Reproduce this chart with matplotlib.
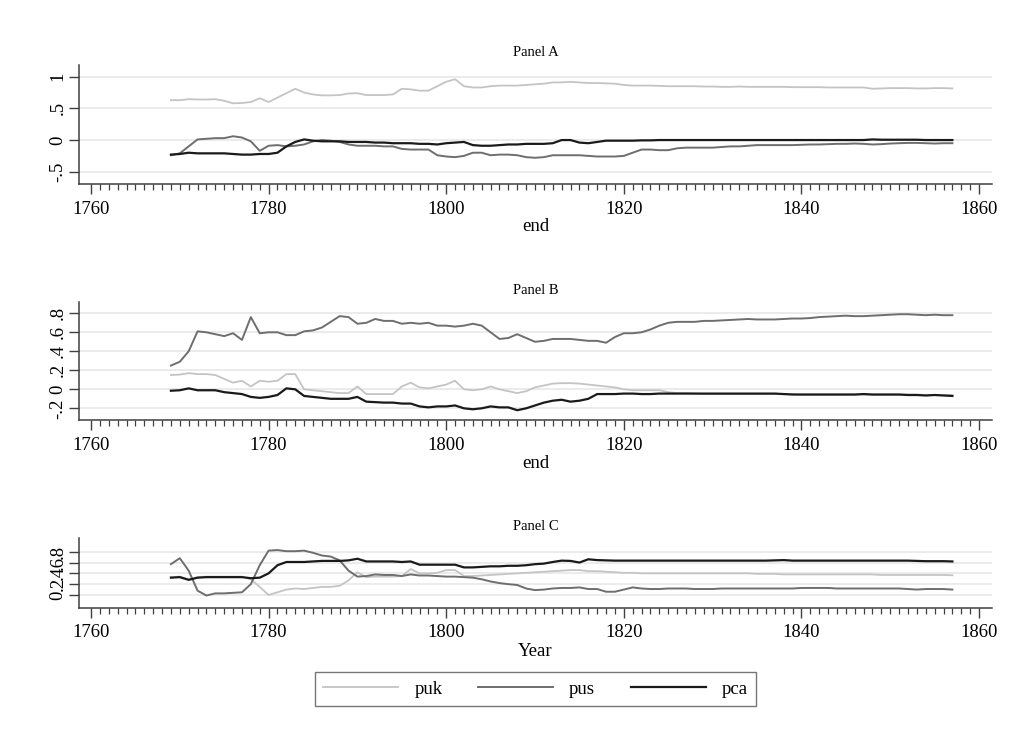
import matplotlib
matplotlib.use("Agg")
import matplotlib.pyplot as plt
import numpy as np
from matplotlib.ticker import FixedLocator, MultipleLocator

years = list(range(1769, 1858))

# Panel A
a_puk = [0.63, 0.63, 0.645, 0.64, 0.64, 0.645, 0.62, 0.58, 0.585, 0.60,
         0.66, 0.60, 0.67, 0.74, 0.81, 0.75, 0.72, 0.705, 0.705, 0.71,
         0.735, 0.74, 0.71, 0.71, 0.71, 0.72, 0.81, 0.80, 0.78, 0.78,
         0.85, 0.92, 0.96, 0.85, 0.83, 0.83, 0.85, 0.86, 0.86, 0.86,
         0.87, 0.88, 0.89, 0.91, 0.91, 0.92, 0.91, 0.90, 0.90, 0.895,
         0.89, 0.87, 0.86, 0.86, 0.86, 0.855, 0.85, 0.85, 0.85, 0.85,
         0.845, 0.845, 0.84, 0.84, 0.845, 0.84, 0.84, 0.84, 0.84, 0.84,
         0.835, 0.835, 0.835, 0.835, 0.83, 0.83, 0.83, 0.83, 0.83, 0.81,
         0.815, 0.82, 0.82, 0.82, 0.815, 0.815, 0.82, 0.82, 0.815]
a_pus = [-0.24, -0.21, -0.10, 0.01, 0.02, 0.03, 0.03, 0.06, 0.04, -0.02,
         -0.17, -0.09, -0.08, -0.10, -0.09, -0.07, -0.02, 0.0, -0.01, -0.03,
         -0.07, -0.09, -0.09, -0.09, -0.10, -0.10, -0.14, -0.15, -0.15, -0.15,
         -0.24, -0.26, -0.27, -0.25, -0.20, -0.20, -0.24, -0.23, -0.23, -0.24,
         -0.27, -0.28, -0.27, -0.24, -0.24, -0.24, -0.24, -0.25, -0.26, -0.26,
         -0.26, -0.25, -0.20, -0.15, -0.15, -0.16, -0.16, -0.13, -0.12, -0.12,
         -0.12, -0.12, -0.11, -0.10, -0.10, -0.09, -0.08, -0.08, -0.08, -0.08,
         -0.08, -0.075, -0.07, -0.07, -0.065, -0.06, -0.06, -0.055, -0.06, -0.07,
         -0.065, -0.055, -0.05, -0.045, -0.045, -0.05, -0.055, -0.05, -0.05]
a_pca = [-0.23, -0.22, -0.20, -0.21, -0.21, -0.21, -0.21, -0.22, -0.23, -0.23,
         -0.22, -0.22, -0.20, -0.10, -0.03, 0.01, -0.01, -0.02, -0.02, -0.02,
         -0.03, -0.03, -0.03, -0.04, -0.04, -0.05, -0.05, -0.05, -0.06, -0.06,
         -0.07, -0.05, -0.04, -0.03, -0.08, -0.09, -0.09, -0.08, -0.07, -0.07,
         -0.06, -0.06, -0.06, -0.05, 0.0, 0.0, -0.04, -0.05, -0.03, -0.01,
         -0.01, -0.01, -0.01, -0.005, -0.005, 0.0, 0.0, 0.0, 0.0, 0.0,
         0.0, 0.0, 0.0, 0.0, 0.0, 0.0, 0.0, 0.0, 0.0, 0.0,
         0.0, 0.0, 0.0, 0.0, 0.0, 0.0, 0.0, 0.0, 0.0, 0.01,
         0.005, 0.005, 0.005, 0.005, 0.005, 0.0, 0.0, 0.0, 0.0]

# Panel B
b_puk = [0.15, 0.155, 0.17, 0.16, 0.16, 0.15, 0.11, 0.07, 0.09, 0.03,
         0.09, 0.08, 0.09, 0.16, 0.16, 0.0, -0.01, -0.02, -0.03, -0.04,
         -0.04, 0.03, -0.05, -0.05, -0.05, -0.05, 0.03, 0.07, 0.02, 0.01,
         0.03, 0.05, 0.09, 0.0, -0.01, 0.0, 0.03, 0.0, -0.02, -0.04,
         -0.02, 0.02, 0.04, 0.06, 0.065, 0.065, 0.06, 0.05, 0.04, 0.03,
         0.02, 0.0, -0.01, -0.01, -0.01, -0.01, -0.03, -0.04, -0.04, -0.045,
         -0.05, -0.05, -0.05, -0.05, -0.05, -0.05, -0.05, -0.05, -0.05, -0.05,
         -0.05, -0.055, -0.055, -0.055, -0.055, -0.055, -0.055, -0.055, -0.055, -0.055,
         -0.055, -0.055, -0.055, -0.055, -0.055, -0.06, -0.06, -0.06, -0.06]
b_pus = [0.25, 0.29, 0.40, 0.61, 0.60, 0.58, 0.56, 0.59, 0.52, 0.76,
         0.59, 0.60, 0.60, 0.57, 0.57, 0.61, 0.62, 0.65, 0.71, 0.77,
         0.76, 0.69, 0.70, 0.74, 0.72, 0.72, 0.69, 0.70, 0.69, 0.70,
         0.67, 0.67, 0.66, 0.67, 0.69, 0.67, 0.60, 0.53, 0.54, 0.58,
         0.54, 0.50, 0.51, 0.53, 0.53, 0.53, 0.52, 0.51, 0.51, 0.49,
         0.55, 0.59, 0.59, 0.60, 0.63, 0.67, 0.70, 0.71, 0.71, 0.71,
         0.72, 0.72, 0.725, 0.73, 0.735, 0.74, 0.735, 0.735, 0.735, 0.74,
         0.745, 0.745, 0.75, 0.76, 0.765, 0.77, 0.775, 0.77, 0.77, 0.775,
         0.78, 0.785, 0.79, 0.79, 0.785, 0.78, 0.785, 0.78, 0.78]
b_pca = [-0.015, -0.01, 0.01, -0.01, -0.01, -0.01, -0.03, -0.04, -0.05, -0.08,
         -0.09, -0.08, -0.06, 0.01, 0.0, -0.07, -0.08, -0.09, -0.10, -0.10,
         -0.10, -0.08, -0.13, -0.135, -0.14, -0.14, -0.15, -0.15, -0.18, -0.19,
         -0.18, -0.18, -0.17, -0.20, -0.21, -0.20, -0.18, -0.19, -0.19, -0.22,
         -0.20, -0.17, -0.14, -0.12, -0.11, -0.13, -0.12, -0.10, -0.05, -0.05,
         -0.05, -0.045, -0.045, -0.05, -0.05, -0.045, -0.045, -0.045, -0.045, -0.045,
         -0.045, -0.045, -0.045, -0.045, -0.045, -0.045, -0.045, -0.045, -0.045, -0.05,
         -0.055, -0.055, -0.055, -0.055, -0.055, -0.055, -0.055, -0.055, -0.05, -0.055,
         -0.055, -0.055, -0.055, -0.06, -0.06, -0.065, -0.06, -0.065, -0.07]

# Panel C
c_puk = [0.33, 0.34, 0.29, 0.33, 0.34, 0.34, 0.34, 0.34, 0.34, 0.29,
         0.15, 0.0, 0.05, 0.10, 0.12, 0.11, 0.13, 0.15, 0.15, 0.17,
         0.27, 0.42, 0.33, 0.34, 0.34, 0.34, 0.35, 0.48, 0.40, 0.40,
         0.41, 0.46, 0.46, 0.35, 0.35, 0.36, 0.37, 0.38, 0.39, 0.40,
         0.41, 0.42, 0.43, 0.44, 0.45, 0.46, 0.46, 0.44, 0.44, 0.43,
         0.42, 0.41, 0.41, 0.40, 0.40, 0.40, 0.40, 0.40, 0.40, 0.40,
         0.40, 0.40, 0.40, 0.40, 0.40, 0.40, 0.39, 0.39, 0.39, 0.38,
         0.38, 0.38, 0.38, 0.38, 0.38, 0.38, 0.38, 0.38, 0.38, 0.38,
         0.37, 0.37, 0.37, 0.37, 0.37, 0.37, 0.37, 0.37, 0.365]
c_pus = [0.57, 0.68, 0.45, 0.08, -0.01, 0.03, 0.03, 0.04, 0.05, 0.20,
         0.55, 0.82, 0.83, 0.81, 0.81, 0.82, 0.78, 0.73, 0.71, 0.64,
         0.45, 0.34, 0.35, 0.38, 0.37, 0.37, 0.35, 0.38, 0.36, 0.36,
         0.35, 0.34, 0.34, 0.33, 0.32, 0.29, 0.25, 0.22, 0.20, 0.185,
         0.12, 0.09, 0.10, 0.12, 0.13, 0.13, 0.14, 0.11, 0.11, 0.06,
         0.06, 0.10, 0.14, 0.12, 0.11, 0.11, 0.12, 0.12, 0.12, 0.11,
         0.11, 0.11, 0.12, 0.12, 0.12, 0.12, 0.12, 0.12, 0.12, 0.12,
         0.12, 0.13, 0.13, 0.13, 0.13, 0.12, 0.12, 0.12, 0.12, 0.12,
         0.12, 0.12, 0.12, 0.11, 0.10, 0.11, 0.11, 0.11, 0.10]
c_pca = [0.32, 0.33, 0.28, 0.32, 0.33, 0.33, 0.33, 0.33, 0.33, 0.31,
         0.32, 0.40, 0.55, 0.61, 0.61, 0.61, 0.62, 0.63, 0.63, 0.63,
         0.64, 0.67, 0.62, 0.62, 0.62, 0.62, 0.61, 0.62, 0.56, 0.56,
         0.56, 0.56, 0.56, 0.51, 0.51, 0.52, 0.53, 0.53, 0.54, 0.54,
         0.55, 0.57, 0.58, 0.61, 0.635, 0.63, 0.60, 0.66, 0.645, 0.64,
         0.635, 0.635, 0.635, 0.635, 0.635, 0.635, 0.635, 0.635, 0.635, 0.635,
         0.635, 0.635, 0.635, 0.635, 0.635, 0.635, 0.635, 0.635, 0.64, 0.645,
         0.635, 0.635, 0.635, 0.635, 0.635, 0.635, 0.635, 0.635, 0.635, 0.635,
         0.635, 0.635, 0.635, 0.635, 0.63, 0.625, 0.625, 0.625, 0.62]

series_names = ["puk", "pus", "pca"]
series_colors = ["#c4c4c4", "#6e6e6e", "#1a1a1a"]
series_widths = [1.3, 1.4, 1.6]

panel_titles = ["Panel A", "Panel B", "Panel C"]
x_titles = ["end", "end", "Year"]
panel_data = [(a_puk, a_pus, a_pca), (b_puk, b_pus, b_pca), (c_puk, c_pus, c_pca)]
yticks = [[-0.5, 0, 0.5, 1], [-0.2, 0, 0.2, 0.4, 0.6, 0.8], [0, 0.2, 0.4, 0.6, 0.8]]
ytick_labels = [["-.5", "0", ".5", "1"], ["-.2", "0", ".2", ".4", ".6", ".8"],
                ["0", ".2", ".4", ".6", ".8"]]
ylims = [(-0.694, 1.185), (-0.323, 0.922), (-0.235, 1.048)]
xticks = [1760, 1780, 1800, 1820, 1840, 1860]

plt.rcParams["font.family"] = ["Liberation Serif", "DejaVu Serif"]

W, H = 1019, 738
fig = plt.figure(figsize=(W / 100, H / 100), dpi=100)
fig.patch.set_facecolor("white")

# axes boxes in pixel coords (left, top, right, bottom)
boxes = [(79, 65, 992, 184), (79, 301.7, 992, 420), (79, 538.3, 992, 607.7)]
label_y = [227, 463, 651]
title_y = [53, 290, 526]

spine_col = "#404040"
handles = []
for i, box in enumerate(boxes):
    l, t, r, b = box
    ax = fig.add_axes([l / W, 1 - b / H, (r - l) / W, (b - t) / H])
    ax.set_xlim(1758.65, 1861.46)
    ax.set_ylim(*ylims[i])
    for yv in yticks[i]:
        ax.axhline(yv, color="#e6e6e6", lw=1.1, zorder=0)
    hs = []
    for vals, name, col, lw in zip(panel_data[i], series_names, series_colors, series_widths):
        h, = ax.plot(years, vals, color=col, lw=lw, label=name, zorder=2)
        hs.append(h)
    if i == 0:
        handles = hs
    ax.spines["top"].set_visible(False)
    ax.spines["right"].set_visible(False)
    ax.spines["left"].set_color(spine_col)
    ax.spines["bottom"].set_color(spine_col)
    ax.spines["left"].set_linewidth(1.1)
    ax.spines["bottom"].set_linewidth(1.1)
    ax.xaxis.set_major_locator(FixedLocator(xticks))
    ax.xaxis.set_minor_locator(FixedLocator(list(range(1760, 1861))))
    ax.set_xticklabels([str(x) for x in xticks], fontsize=13.5)
    ax.set_yticks(yticks[i])
    ax.set_yticklabels(ytick_labels[i], fontsize=13.5, rotation=90, va="center")
    ax.tick_params(axis="x", which="major", length=7, width=1.0, color=spine_col, pad=5)
    ax.tick_params(axis="x", which="minor", length=4, width=0.9, color=spine_col)
    ax.tick_params(axis="y", which="major", length=7, width=1.0, color=spine_col, pad=2)
    fig.text(535.5 / W, 1 - label_y[i] / H, x_titles[i], ha="center", va="center", fontsize=13.5)
    fig.text(535.5 / W, 1 - title_y[i] / H, panel_titles[i], ha="center", va="center", fontsize=10.5)

leg = fig.legend(handles, series_names, loc="center", bbox_to_anchor=(535.5 / W, 1 - 689 / H),
                 ncol=3, fontsize=13.5, frameon=True, fancybox=False, edgecolor="#555555",
                 handlelength=4.0, handletextpad=0.85, columnspacing=1.9,
                 borderpad=0.45, borderaxespad=0)
leg.get_frame().set_linewidth(1.0)

fig.savefig("out.png", dpi=100, facecolor="white")
